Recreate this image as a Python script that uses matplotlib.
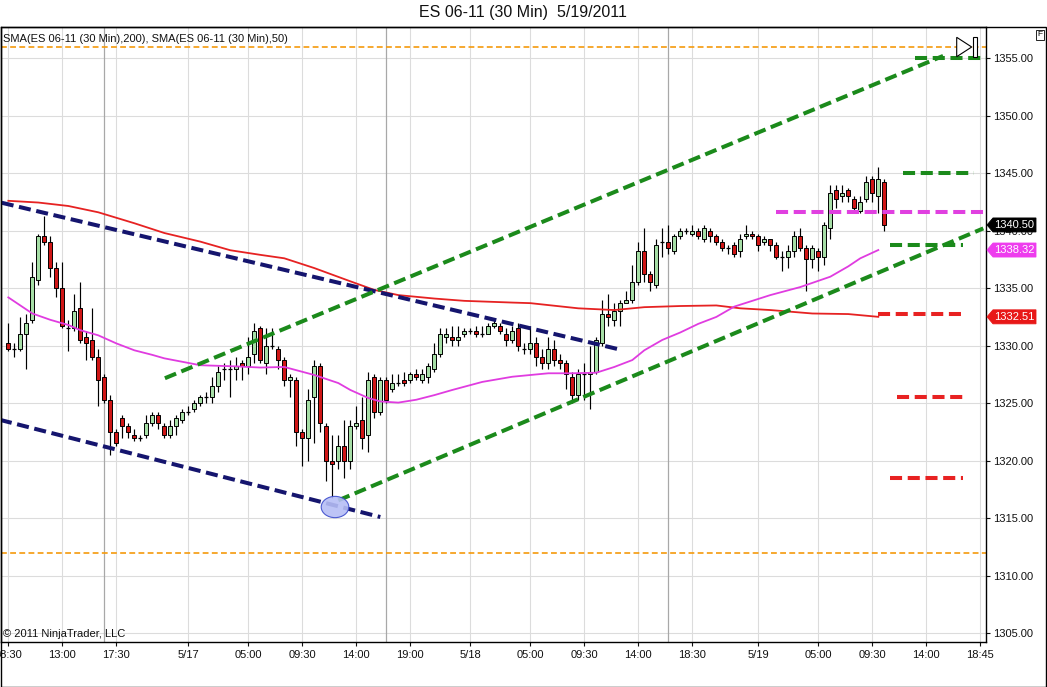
import matplotlib
matplotlib.use("Agg")
import matplotlib.pyplot as plt
from matplotlib.patches import Rectangle, Polygon, Ellipse
from matplotlib.ticker import FormatStrFormatter
import numpy as np

plt.rcParams['font.family'] = ['Liberation Sans', 'DejaVu Sans']

# ---------------- data (30-minute bars, x = bar index) ----------------
opens = [1330.25, 1329.75, 1329.75, 1331, 1332.25, 1335.75, 1339.5, 1339, 1336.75, 1335,
         1331.5, 1331.5, 1333.25, 1330.75, 1330.5, 1329, 1327.25, 1325.25, 1322.5, 1323.75,
         1323, 1322.25, 1322, 1322.25, 1323.25, 1324, 1323, 1322.25, 1323, 1323.5,
         1324.25, 1324.5, 1325, 1325.5, 1325.5, 1326.5, 1328, 1328, 1328, 1328.5,
         1328.25, 1329.25, 1331.5, 1328.5, 1330, 1329.75, 1328.75, 1327, 1327, 1322.5,
         1322, 1325.5, 1328.25, 1323, 1320, 1320, 1321.25, 1320, 1323, 1323.5,
         1322.25, 1327.25, 1324.25, 1327, 1326.25, 1326.75, 1327, 1327, 1327.5, 1327,
         1327.25, 1328, 1329.25, 1330.75, 1330.75, 1330.5, 1331, 1331.25, 1331.25, 1331,
         1331, 1331.75, 1331.75, 1331, 1330.5, 1331.5, 1329.75, 1329.75, 1330.25, 1329,
         1328.5, 1329.75, 1328.75, 1328.5, 1327.25, 1325.75, 1327.5, 1327.5, 1327.75, 1330.25,
         1332.75, 1332.25, 1333, 1333.75, 1334, 1335.5, 1338.25, 1336.25, 1335.25, 1339,
         1339, 1338.25, 1339.5, 1340, 1339.75, 1340, 1339.25, 1340, 1339.5, 1339,
         1338.5, 1338.75, 1338.25, 1339.5, 1339.75, 1339.5, 1339, 1339.25, 1338.75, 1337.75,
         1337.75, 1338.25, 1339.5, 1338.5, 1337.5, 1338.25, 1337.75, 1340.25, 1343.5, 1343,
         1343.5, 1342.75, 1341.75, 1342.75, 1344.5, 1343, 1344.25]
highs = [1332, 1330.25, 1332.5, 1332.75, 1337.25, 1339.75, 1341.25, 1339.5, 1337.25, 1337.25,
         1332.25, 1334.5, 1335.5, 1331.25, 1333.25, 1329.75, 1327.5, 1325.75, 1322.75, 1324,
         1323.25, 1322.75, 1322.25, 1324, 1324.25, 1324.25, 1323.25, 1323.5, 1324, 1324.5,
         1324.75, 1325.25, 1325.75, 1326, 1327.25, 1328.25, 1328.5, 1328.75, 1329, 1328.75,
         1330.75, 1332, 1331.75, 1331.5, 1331.5, 1330, 1329, 1327.5, 1327.25, 1322.75,
         1326.25, 1328.75, 1328.5, 1323.25, 1322.25, 1322.25, 1323.5, 1323.5, 1324.75, 1325.5,
         1327.75, 1327.5, 1327.25, 1327.25, 1327.5, 1327.5, 1327.75, 1327.75, 1328, 1328,
         1328.5, 1330.25, 1331.5, 1331.5, 1331.75, 1331.75, 1331.5, 1331.5, 1331.75, 1331.75,
         1332, 1332.25, 1332, 1331.5, 1331.75, 1332, 1330.25, 1331.75, 1330.75, 1329.75,
         1330.75, 1330.5, 1329.25, 1328.75, 1327.75, 1328, 1328.5, 1330, 1330.75, 1334,
         1334.5, 1333.75, 1334, 1334.75, 1337, 1339, 1340.25, 1336.5, 1339.25, 1340.25,
         1340.5, 1339.75, 1340.25, 1340.25, 1340.5, 1340.25, 1340.5, 1340.25, 1339.75, 1339.25,
         1338.75, 1339, 1339.75, 1340.5, 1340, 1339.75, 1339.5, 1339.25, 1339, 1338.25,
         1338.75, 1340, 1340.25, 1338.75, 1338.75, 1338.5, 1340.75, 1344, 1344, 1344,
         1343.75, 1343, 1343, 1344.75, 1344.75, 1345.5, 1344.5]
lows = [1329.5, 1329, 1329.5, 1328, 1332, 1335.25, 1338.75, 1336, 1334.25, 1331.5,
        1329.5, 1331.25, 1330.25, 1328.75, 1328.75, 1324.75, 1325, 1320.5, 1321.25, 1322,
        1322, 1321.75, 1321.75, 1322, 1323, 1322.75, 1322, 1322, 1322.25, 1323.25,
        1324, 1324.25, 1324.75, 1325, 1325, 1326, 1327, 1325.5, 1327, 1327,
        1327.5, 1328.5, 1328.5, 1327.5, 1329.75, 1328, 1326.5, 1325.5, 1321.25, 1319.5,
        1320, 1321.5, 1322.5, 1318.25, 1316.75, 1319.25, 1318.5, 1319.25, 1322.75, 1321,
        1320.75, 1323.75, 1324, 1325, 1326, 1326.5, 1326.5, 1326.75, 1327, 1326.75,
        1326.75, 1327.75, 1329, 1330.25, 1330, 1330, 1330.75, 1331, 1330.75, 1330.75,
        1331, 1331.5, 1331, 1330, 1330.25, 1329.5, 1329.25, 1329.25, 1328.25, 1328,
        1328, 1328.25, 1328, 1326.25, 1325, 1325.25, 1325.25, 1324.5, 1327.5, 1330,
        1331.75, 1331.75, 1331.75, 1333.75, 1333.75, 1335.25, 1335.5, 1334.75, 1335, 1337.75,
        1338, 1338, 1339.25, 1339.75, 1339.5, 1339.25, 1339, 1339, 1338.75, 1338.25,
        1338, 1337.75, 1337.75, 1339.25, 1339.25, 1338.25, 1338.75, 1338.25, 1337.5, 1336.5,
        1336.75, 1337.75, 1338.25, 1334.75, 1336.75, 1336.5, 1337, 1339.25, 1342, 1342.5,
        1342.5, 1341.5, 1341.5, 1342.5, 1342.5, 1341.5, 1340]
closes = [1329.75, 1329.75, 1331, 1332, 1336, 1339.5, 1339, 1336.75, 1335, 1331.75,
          1331.5, 1333, 1330.5, 1330.25, 1329, 1327, 1325.25, 1322.5, 1321.5, 1323,
          1322.5, 1322, 1322, 1323.25, 1324, 1323.25, 1322.25, 1323, 1323.75, 1324.25,
          1324.25, 1325, 1325.5, 1325.5, 1326.5, 1327.75, 1328, 1328, 1328.25, 1328.25,
          1329, 1331.25, 1328.75, 1330, 1330, 1328.75, 1327, 1327.25, 1322.5, 1322,
          1325.25, 1328.25, 1323.25, 1320, 1319.75, 1321.25, 1320, 1323, 1323.25, 1322,
          1327, 1324.25, 1327, 1325.25, 1326.75, 1326.75, 1326.75, 1327.5, 1327.25, 1327.5,
          1328.25, 1329.25, 1331, 1331, 1330.5, 1330.75, 1331.25, 1331.25, 1331, 1331,
          1331.75, 1332, 1331.25, 1330.5, 1331.25, 1330, 1329.75, 1330.25, 1329, 1328.5,
          1329.75, 1328.75, 1328.5, 1327.5, 1325.75, 1327.5, 1327.5, 1327.75, 1330.5, 1332.75,
          1332.5, 1333, 1333.75, 1334, 1335.5, 1338.25, 1336.25, 1335.5, 1338.75, 1339,
          1338.5, 1339.5, 1340, 1340, 1340, 1339.5, 1340.25, 1339.5, 1339, 1338.5,
          1338.5, 1338, 1339.25, 1339.75, 1339.5, 1338.75, 1339.25, 1338.75, 1337.75, 1337.75,
          1338.25, 1339.5, 1338.5, 1337.5, 1338.5, 1337.75, 1340.5, 1343.25, 1342.75, 1343.25,
          1343, 1342, 1342.5, 1344.25, 1343.25, 1344.5, 1340.5]

# SMA(200)
sma200_bars = [0, 5, 10, 15, 21, 26, 32, 37, 42, 46, 51, 57, 61, 65, 71, 76, 84, 87, 95,
               101, 106, 112, 118, 122, 127, 134, 140, 145]
sma200_vals = [1342.6, 1342.45, 1342.15, 1341.6, 1340.65, 1339.8, 1339.05, 1338.3, 1337.9,
               1337.6, 1336.75, 1335.6, 1334.85, 1334.4, 1334.1, 1333.9, 1333.75, 1333.7,
               1333.25, 1333.1, 1333.35, 1333.45, 1333.5, 1333.25, 1333.1, 1332.8, 1332.75,
               1332.51]
# SMA(50)
sma50_bars = [0, 4, 7, 10, 12, 15, 18, 21, 24, 26, 29, 32, 35, 38, 42, 46, 51, 55, 57, 60,
              62, 65, 68, 71, 74, 79, 84, 90, 94, 98, 101, 104, 106, 109, 112, 115, 118,
              121, 127, 132, 137, 140, 142, 145]
sma50_vals = [1334.2, 1332.8, 1332.25, 1331.8, 1331.35, 1330.9, 1330.2, 1329.6, 1329.2,
              1328.9, 1328.6, 1328.3, 1328.25, 1328.2, 1328.1, 1328.15, 1327.45, 1326.75,
              1326.15, 1325.45, 1325.15, 1325.05, 1325.3, 1325.7, 1326.15, 1326.85, 1327.3,
              1327.6, 1327.6, 1327.65, 1328.15, 1328.75, 1329.6, 1330.5, 1331.15, 1331.9,
              1332.5, 1333.4, 1334.4, 1335.1, 1336.0, 1336.9, 1337.6, 1338.32]

# drawn trend lines: (bar, price) endpoints
navy_lines = [((-1.1, 1342.43), (102.2, 1329.63)),
              ((-1.4, 1323.55), (62.0, 1315.1))]
green_lines = [((26.1, 1327.17), (155.8, 1355.2)),
               ((55.0, 1316.55), (162.5, 1340.2))]
# horizontal dashed levels: (price, start bar, end bar)
green_levels = [(1355.0, 151.1, 163.0), (1345.0, 149.1, 161.0), (1338.75, 147.0, 159.1)]
magenta_levels = [(1341.6, 128.0, 163.0)]
red_levels = [(1332.75, 145.0, 159.1), (1325.5, 148.1, 159.1), (1318.5, 147.0, 159.1)]
orange_levels = [1356.0, 1312.0]

# x-axis ticks (bar index, label) and session breaks
tick_bars = [0, 9, 18, 30, 40, 49, 58, 67, 77, 87, 96, 105, 114, 125, 135, 144, 153, 162]
tick_labels = ['08:30', '13:00', '17:30', '5/17', '05:00', '09:30', '14:00', '19:00', '5/18',
               '05:00', '09:30', '14:00', '18:30', '5/19', '05:00', '09:30', '14:00', '18:45']
session_breaks = [16, 63, 110]
price_ticks = list(range(1305, 1360, 5))

# price tags on the right axis
tags = [(1340.50, '1340.50', '#000000'), (1338.32, '1338.32', '#ee3cee'),
        (1332.51, '1332.51', '#e81818')]

# ---------------- figure ----------------
W, H = 1047, 687
fig = plt.figure(figsize=(W / 100, H / 100), dpi=100)
AX_L, AX_R, AX_T, AX_B = 1, 986, 27.3, 642
ax = fig.add_axes([AX_L / W, 1 - AX_B / H, (AX_R - AX_L) / W, (AX_B - AX_T) / H])
ax.set_xlim(-1.22, 162.95)
ax.set_ylim(1304.23, 1357.69)
ax.set_axisbelow(True)

ax.set_xticks(tick_bars)
ax.set_xticklabels(tick_labels)
ax.set_yticks(price_ticks)
ax.yaxis.set_major_formatter(FormatStrFormatter('%.2f'))
ax.yaxis.tick_right()
ax.grid(True, color='#dcdcdc', lw=0.8)
ax.tick_params(axis='y', direction='out', length=3, width=0.8, pad=2, labelsize=8,
               colors='#111111')
ax.tick_params(axis='x', direction='out', length=3, width=0.8, pad=2.5, labelsize=8,
               colors='#111111')
for s in ax.spines.values():
    s.set_color('black')
    s.set_linewidth(1.0)

for b in session_breaks:
    ax.axvline(b, color='#a8a8a8', lw=0.9, zorder=1)

for lvl in orange_levels:
    ax.axhline(lvl, color='#f59a0c', lw=1.2, ls=(0, (3.5, 2)), zorder=2)

# candles
x = np.arange(len(opens))
o = np.array(opens); h = np.array(highs); l = np.array(lows); c = np.array(closes)
up = c > o
dn = c < o
eq = c == o
ax.vlines(x, l, h, color='black', lw=0.85, zorder=3)
ax.bar(x[up], (c - o)[up], bottom=o[up], width=0.68, color='#a6dea6',
       edgecolor='black', lw=0.7, zorder=4)
ax.bar(x[dn], (o - c)[dn], bottom=c[dn], width=0.68, color='#cf1616',
       edgecolor='black', lw=0.7, zorder=4)
ax.hlines(o[eq], x[eq] - 0.36, x[eq] + 0.36, color='black', lw=0.9, zorder=4)

# moving averages
ax.plot(sma200_bars, sma200_vals, color='#e62222', lw=1.3, zorder=5)
ax.plot(sma50_bars, sma50_vals, color='#e03ce0', lw=1.3, zorder=5)

# ellipse marker
ax.add_patch(Ellipse((54.45, 1315.97), width=4.6, height=1.85, fc='#b6bef5',
                     ec='#3c4ccc', lw=0.8, alpha=0.9, zorder=7))

DASH = (0, (3, 1.4))
LW = 2.9
for (x0, y0), (x1, y1) in navy_lines:
    ax.plot([x0, x1], [y0, y1], color='#15156e', lw=LW, ls=DASH, zorder=6,
            dash_capstyle='butt')
for (x0, y0), (x1, y1) in green_lines:
    ax.plot([x0, x1], [y0, y1], color='#1b8a1b', lw=LW, ls=DASH, zorder=6,
            dash_capstyle='butt')
for p, a, b in green_levels:
    ax.plot([a, b], [p, p], color='#1b8a1b', lw=LW, ls=DASH, zorder=6, dash_capstyle='butt')
for p, a, b in magenta_levels:
    ax.plot([a, b], [p, p], color='#e040e0', lw=LW, ls=DASH, zorder=6, dash_capstyle='butt')
for p, a, b in red_levels:
    ax.plot([a, b], [p, p], color='#e82222', lw=LW, ls=DASH, zorder=6, dash_capstyle='butt')

# price tags
PX = 1.0 / (AX_R - AX_L)
PY = (1357.69 - 1304.23) / (AX_B - AX_T)
ytr = ax.get_yaxis_transform()
for p, txt, col in tags:
    verts = [(1 + 1 * PX, p), (1 + 7 * PX, p + 7 * PY), (1 + 50 * PX, p + 7 * PY),
             (1 + 50 * PX, p - 7 * PY), (1 + 7 * PX, p - 7 * PY)]
    ax.add_patch(Polygon(verts, closed=True, transform=ytr, clip_on=False, fc=col,
                         ec=col, lw=0.6, zorder=10))
    ax.text(1 + 28.5 * PX, p, txt, transform=ytr, ha='center', va='center', color='white',
            fontsize=8, zorder=11, clip_on=False)

# scroll-to-end icon
def pa(px, py):
    return ((px - AX_L) / (AX_R - AX_L), (AX_B - py) / (AX_B - AX_T))

ax.add_patch(Polygon([pa(956.7, 37.3), pa(956.7, 56.7), pa(971.7, 47.0)], closed=True,
                     transform=ax.transAxes, fc='white', ec='black', lw=0.8, zorder=12,
                     clip_on=False))
ax.add_patch(Polygon([pa(973.3, 36.7), pa(976.7, 36.7), pa(976.7, 57.3), pa(973.3, 57.3)],
                     closed=True, transform=ax.transAxes, fc='white', ec='black', lw=0.8,
                     zorder=12, clip_on=False))

# outer frame
fig.add_artist(Rectangle((0.5 / W, 0.5 / H), (W - 1.5) / W, (H - AX_T - 0.5) / H,
                         transform=fig.transFigure, fill=False, ec='black', lw=1.0))

# texts
fig.text(523 / W, 1 - 13 / H, 'ES 06-11 (30 Min)  5/19/2011', ha='center', va='center',
         fontsize=11.5, color='#111111')
fig.text(3 / W, 1 - 39 / H, 'SMA(ES 06-11 (30 Min),200), SMA(ES 06-11 (30 Min),50)',
         ha='left', va='center', fontsize=8, color='#111111')
fig.text(3 / W, 1 - 634 / H, '\u00a9 2011 NinjaTrader, LLC', ha='left', va='center',
         fontsize=8, color='#111111')
fig.text(1040 / W, 1 - 35 / H, 'F', ha='center', va='center', fontsize=6,
         bbox=dict(boxstyle='square,pad=0.15', fc='white', ec='black', lw=0.6))

fig.savefig('out.png', dpi=100)
